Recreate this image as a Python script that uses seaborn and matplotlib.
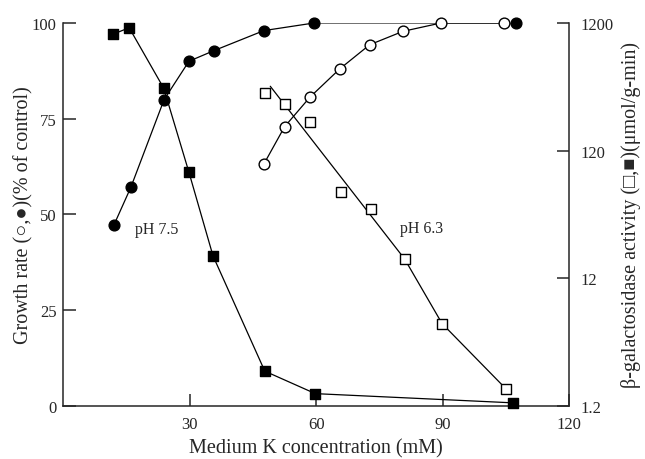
import matplotlib
matplotlib.use("Agg")
import matplotlib.pyplot as plt
import seaborn as sns

# growth rate (% of control), left axis
growth_x_75 = [12.0, 16.0, 23.9, 29.8, 35.8, 47.6, 59.6, 107.5]
growth_y_75 = [47.3, 57.1, 80.0, 90.0, 92.8, 98.0, 100.0, 100.0]
growth_x_63 = [47.6, 52.5, 58.5, 65.6, 72.7, 80.6, 89.7, 104.7]
growth_y_63 = [63.2, 72.9, 80.6, 88.0, 94.3, 97.8, 100.0, 100.0]

# beta-galactosidase activity (umol/g-min), right log axis
activity_x_75 = [11.8, 15.6, 23.8, 29.8, 35.5, 47.8, 59.8, 106.8]
activity_y_75 = [980, 1100, 370, 81, 18, 2.25, 1.5, 1.27]
activity_x_63 = [47.8, 52.7, 58.6, 65.8, 72.9, 81.0, 89.9, 105.1]
activity_y_63 = [337, 278, 202, 57, 42, 17, 5.3, 1.63]
# the pH 6.3 activity line is a drawn trend, not point-to-point
trend_x_63 = [49.1, 81.0, 89.9, 105.1]
trend_y_63 = [383, 17, 5.3, 1.63]

x_ticks = [30, 60, 90, 120]
left_ticks = [0, 25, 50, 75, 100]
right_ticks = [1.2, 12, 120, 1200]
right_labels = ["1.2", "12", "120", "1200"]

sns.set_style("ticks")
plt.rcParams["font.family"] = ["Liberation Serif", "DejaVu Sans"]

fig = plt.figure(figsize=(6.45, 4.6), dpi=100)
fig.subplots_adjust(left=0.0984, right=0.882, top=0.948, bottom=0.1152)
ax = fig.add_subplot(111)
ax2 = ax.twinx()

LW = 0.9
line_kw = dict(color="black", linewidth=LW, sort=False, estimator=None)
mk_filled = dict(color="black", edgecolor="black", linewidth=1.0, clip_on=False, zorder=5, legend=False)
mk_open = dict(color="white", edgecolor="black", linewidth=1.0, clip_on=False, zorder=5, legend=False)


def draw(axis, xs, ys, marker, size, style, line_x=None, line_y=None):
    lx = xs if line_x is None else line_x
    ly = ys if line_y is None else line_y
    sns.lineplot(x=lx, y=ly, ax=axis, **line_kw)
    sns.scatterplot(x=xs, y=ys, ax=axis, marker=marker, s=size, **style)


# left axis: growth
draw(ax, growth_x_75, growth_y_75, "o", 60, mk_filled)
draw(ax, growth_x_63, growth_y_63, "o", 60, mk_open)

# right axis: activity
ax2.set_yscale("log")
draw(ax2, activity_x_75, activity_y_75, "s", 55, mk_filled)
draw(ax2, activity_x_63, activity_y_63, "s", 55, mk_open, trend_x_63, trend_y_63)

ax.set_xlim(0, 120)
ax.set_ylim(0, 100)
ax2.set_ylim(1.2, 1200)

ax.set_xticks(x_ticks)
ax.set_xticklabels([str(t) for t in x_ticks])
ax.set_yticks(left_ticks)
ax.set_yticklabels([str(t) for t in left_ticks])
ax2.set_yticks(right_ticks)
ax2.set_yticklabels(right_labels)
ax2.minorticks_off()

ax.tick_params(axis="both", direction="in", length=9, width=1.1, labelsize=12)
ax.tick_params(axis="y", pad=5)
ax.tick_params(axis="x", pad=7)
ax2.tick_params(axis="y", direction="in", length=9, width=1.1, labelsize=12, pad=8)

for side in ["top", "right"]:
    ax.spines[side].set_visible(False)
for side in ["top", "left", "bottom"]:
    ax2.spines[side].set_visible(False)
ax.spines["left"].set_linewidth(1.1)
ax.spines["bottom"].set_linewidth(1.1)
ax2.spines["right"].set_linewidth(1.1)

ax.set_xlabel("Medium K concentration (mM)", fontsize=14.5, labelpad=5)
ax.set_ylabel("Growth rate (\u25cb,\u25cf)(% of control)", fontsize=14.5, labelpad=-1)
ax2.set_ylabel("\u03b2-galactosidase activity (\u25a1,\u25a0)(\u03bcmol/g-min)", fontsize=14.5, labelpad=6)

ax.text(17, 46.2, "pH 7.5", fontsize=11.5, ha="left", va="center")
ax.text(79.8, 46.5, "pH 6.3", fontsize=11.5, ha="left", va="center")

fig.savefig("out.png", dpi=100)
plt.close(fig)
